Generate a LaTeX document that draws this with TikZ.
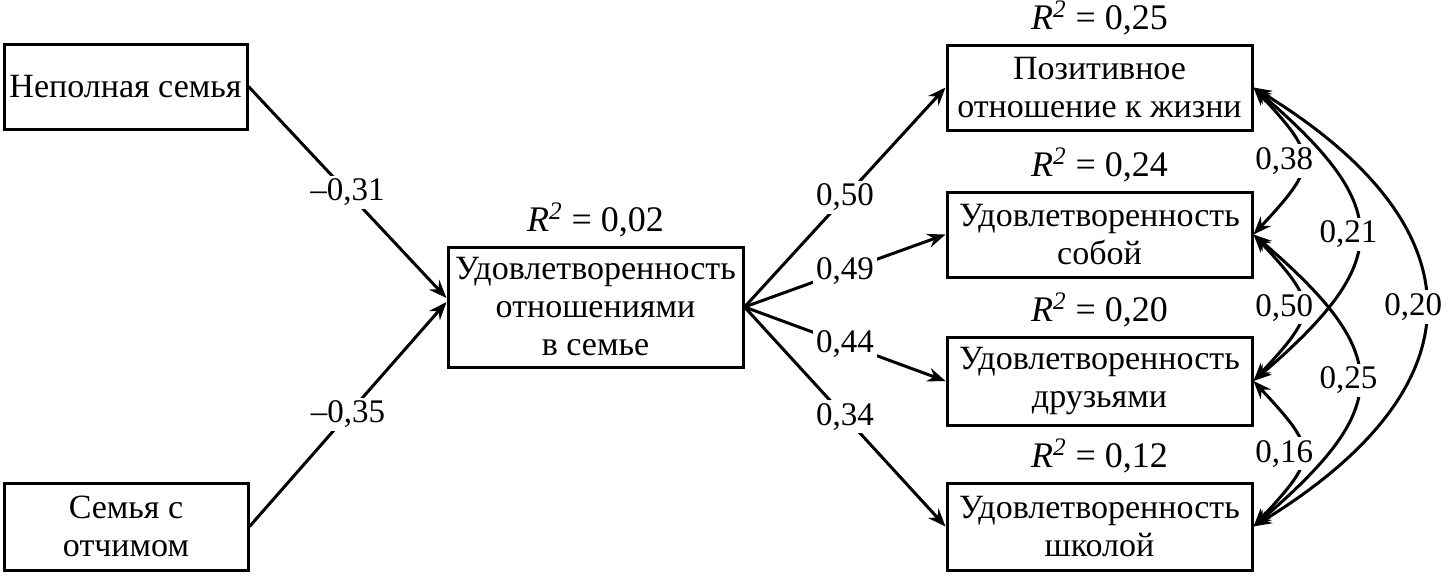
\documentclass[tikz,border=0pt]{standalone}
\usepackage{fontspec}
\setmainfont{Liberation Serif}
\usetikzlibrary{arrows.meta,positioning}
\begin{document}
\begin{tikzpicture}[x=0.5pt,y=-0.5pt,
  box/.style={draw,line width=1.5pt,inner sep=0pt,align=center,font=\fontsize{17}{19}\selectfont},
  rlbl/.style={inner sep=0pt,font=\fontsize{18}{20}\selectfont},
  coef/.style={fill=white,inner sep=1.5pt,font=\fontsize{16.5}{19}\selectfont},
  arr/.style={line width=1.5pt,-{Stealth[length=9pt,width=7pt,inset=3pt]}},
  darr/.style={line width=1.5pt,{Stealth[length=9pt,width=7pt,inset=3pt]}-{Stealth[length=9pt,width=7pt,inset=3pt]}}]
\useasboundingbox (0,0) rectangle (1449,578);
\node[box,minimum width=121.5pt,minimum height=42.5pt] (A) at (125.5,86.5) {Неполная семья};
\node[box,minimum width=122pt,minimum height=43.5pt] (B) at (126,526.5) {Семья с\\отчимом};
\node[box,minimum width=147.5pt,minimum height=60pt] (C) at (595.5,307) {Удовлетворенность\\отношениями\\в семье};
\node[box,minimum width=152.5pt,minimum height=42.5pt] (D1) at (1099.5,87.5) {Позитивное\\отношение к жизни};
\node[box,minimum width=152.5pt,minimum height=42.5pt] (D2) at (1099.5,234.5) {Удовлетворенность\\собой};
\node[box,minimum width=152.5pt,minimum height=44pt] (D3) at (1099.5,381) {Удовлетворенность\\друзьями};
\node[box,minimum width=152.5pt,minimum height=43.5pt] (D4) at (1099.5,526.5) {Удовлетворенность\\школой};
\node[rlbl,above=4pt of C] (RC) {\textit{R}\textsuperscript{\textit{2}} = 0,02};
\node[rlbl,above=4pt of D1] (R1) {\textit{R}\textsuperscript{\textit{2}} = 0,25};
\node[rlbl,above=4pt of D2] (R2) {\textit{R}\textsuperscript{\textit{2}} = 0,24};
\node[rlbl,above=4pt of D3] (R3) {\textit{R}\textsuperscript{\textit{2}} = 0,20};
\node[rlbl,above=4pt of D4] (R4) {\textit{R}\textsuperscript{\textit{2}} = 0,12};
\draw[arr] (A.east) -- node[coef] {–0,31} ([yshift=4.5pt]C.west);
\draw[arr] (B.east) -- node[coef] {–0,35} ([yshift=2.5pt]C.west);
\draw[arr] (C.east) -- node[coef] {0,50} (D1.west);
\draw[arr] (C.east) -- node[coef] {0,49} (D2.west);
\draw[arr] (C.east) -- node[coef] {0,44} (D3.west);
\draw[arr] (C.east) -- node[coef] {0,34} (D4.west);
\draw[darr] (D1.east) .. controls +(65,70) and +(65,-70) .. node[coef,pos=0.5,xshift=-9pt] {0,38} (D2.east);
\draw[darr] (D2.east) .. controls +(65,70) and +(65,-70) .. node[coef,pos=0.5,xshift=-9pt] {0,50} (D3.east);
\draw[darr] (D3.east) .. controls +(65,70) and +(65,-70) .. node[coef,pos=0.5,xshift=-9pt] {0,16} (D4.east);
\draw[darr] (D1.east) .. controls +(140,120) and +(140,-120) .. node[coef,pos=0.5,xshift=-5pt] {0,21} (D3.east);
\draw[darr] (D2.east) .. controls +(140,120) and +(140,-120) .. node[coef,pos=0.5,xshift=-5pt] {0,25} (D4.east);
\draw[darr] (D1.east) .. controls +(229,140) and +(229,-140) .. node[coef,pos=0.5,xshift=-6pt] {0,20} (D4.east);
\end{tikzpicture}
\end{document}
